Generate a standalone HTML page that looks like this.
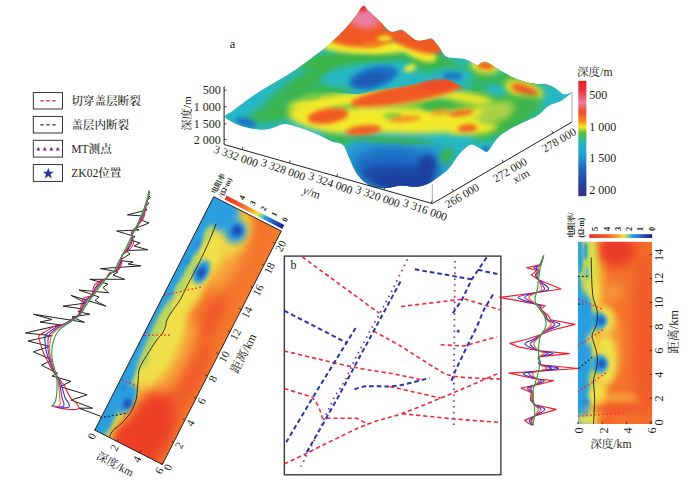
<!DOCTYPE html>
<html><head><meta charset="utf-8"><title>figure</title>
<style>
html,body{margin:0;padding:0;background:#fff;}
body{width:698px;height:484px;overflow:hidden;}
svg{display:block;}
text{font-family:"Liberation Serif", "Noto Serif CJK SC", serif;fill:#231f20;}
</style></head><body>
<svg width="698" height="484" viewBox="0 0 698 484">
<rect x="0" y="0" width="698" height="484" fill="#ffffff"/>
<defs>
<filter id="b1" x="-150%" y="-300%" width="400%" height="700%"><feGaussianBlur stdDeviation="1.1"/></filter>
<filter id="b2" x="-150%" y="-300%" width="400%" height="700%"><feGaussianBlur stdDeviation="2"/></filter>
<filter id="b3" x="-150%" y="-300%" width="400%" height="700%"><feGaussianBlur stdDeviation="3"/></filter>
<filter id="b4" x="-150%" y="-300%" width="400%" height="700%"><feGaussianBlur stdDeviation="4"/></filter>
<filter id="b6" x="-150%" y="-300%" width="400%" height="700%"><feGaussianBlur stdDeviation="6"/></filter>
<linearGradient id="cbDepth" x1="0" y1="0" x2="0" y2="1">
<stop offset="0" stop-color="#e61f26"/>
<stop offset="0.08" stop-color="#e8323a"/>
<stop offset="0.19" stop-color="#ea7fa3"/>
<stop offset="0.27" stop-color="#ee4a2c"/>
<stop offset="0.35" stop-color="#f58a1f"/>
<stop offset="0.40" stop-color="#f6e71f"/>
<stop offset="0.45" stop-color="#5bbf3a"/>
<stop offset="0.53" stop-color="#28b9b0"/>
<stop offset="0.63" stop-color="#27a3d6"/>
<stop offset="0.78" stop-color="#1f62b8"/>
<stop offset="0.92" stop-color="#2a3a9c"/>
<stop offset="1" stop-color="#3b2f8f"/>
</linearGradient>
<linearGradient id="cbRes" x1="0" y1="0" x2="1" y2="0">
<stop offset="0" stop-color="#e8312a"/>
<stop offset="0.30" stop-color="#f2672a"/>
<stop offset="0.45" stop-color="#f7a531"/>
<stop offset="0.55" stop-color="#f3e53c"/>
<stop offset="0.62" stop-color="#7fcf9a"/>
<stop offset="0.68" stop-color="#2a9fe0"/>
<stop offset="0.82" stop-color="#2166c4"/>
<stop offset="0.93" stop-color="#27349a"/>
<stop offset="1" stop-color="#1f2a86"/>
</linearGradient>
</defs>
<rect x="33.3" y="92.6" width="29.2" height="16.4" fill="#fff" stroke="#231f20" stroke-width="0.9"/>
<text x="71.2" y="104.9" font-size="11.6" font-weight="500">切穿盖层断裂</text>
<line x1="40.5" y1="100.8" x2="56" y2="100.8" stroke="#ee2a3a" stroke-width="1.4" stroke-dasharray="3,3"/>
<rect x="33.3" y="116.4" width="29.2" height="16.6" fill="#fff" stroke="#231f20" stroke-width="0.9"/>
<text x="71.2" y="128.8" font-size="11.6" font-weight="500">盖层内断裂</text>
<line x1="40.5" y1="124.7" x2="56" y2="124.7" stroke="#3a3aa8" stroke-width="1.4" stroke-dasharray="3,3"/>
<rect x="33.3" y="140.3" width="29.2" height="16.8" fill="#fff" stroke="#231f20" stroke-width="0.9"/>
<text x="71.2" y="152.8" font-size="11.6" font-weight="500">MT测点</text>
<path d="M36.2,150.6 L40.4,150.6 L38.3,146.7Z" fill="#8a2d9c"/>
<path d="M42.7,150.6 L46.9,150.6 L44.8,146.7Z" fill="#8a2d9c"/>
<path d="M49.2,150.6 L53.4,150.6 L51.3,146.7Z" fill="#8a2d9c"/>
<path d="M55.7,150.6 L59.9,150.6 L57.8,146.7Z" fill="#8a2d9c"/>
<rect x="33.3" y="164.6" width="29.2" height="16.8" fill="#fff" stroke="#231f20" stroke-width="0.9"/>
<text x="71.2" y="177.1" font-size="11.6" font-weight="500">ZK02位置</text>
<path d="M48.3,167.7 L49.7,171.7 L53.9,171.8 L50.5,174.3 L51.8,178.4 L48.3,175.9 L44.8,178.4 L46.1,174.3 L42.7,171.8 L46.9,171.7Z" fill="#2b2f9e"/>
<clipPath id="surfClip"><path d="M225.0,117.0 C223.9,114.8 228.7,114.1 232.0,111.5 C235.3,108.9 240.2,105.0 245.0,101.5 C249.8,98.0 255.5,94.0 261.0,90.5 C266.5,87.0 272.2,84.0 278.0,80.5 C283.8,77.0 290.2,73.4 296.0,69.5 C301.8,65.6 307.3,61.3 313.0,57.0 C318.7,52.7 324.7,48.2 330.0,43.5 C335.3,38.8 340.8,33.4 345.0,29.0 C349.2,24.6 352.0,20.8 355.0,17.0 C358.0,13.2 360.9,7.2 363.0,6.0 C365.1,4.8 365.8,8.5 367.5,10.0 C369.2,11.5 370.8,12.9 373.0,15.0 C375.2,17.1 378.2,19.8 381.0,22.5 C383.8,25.2 387.1,29.5 389.5,31.0 C391.9,32.5 393.4,31.7 395.5,31.5 C397.6,31.3 399.6,29.2 402.0,30.0 C404.4,30.8 407.5,34.2 410.0,36.0 C412.5,37.8 414.5,39.8 417.0,40.5 C419.5,41.2 422.5,40.2 425.0,40.0 C427.5,39.8 429.7,37.8 432.0,39.0 C434.3,40.2 436.7,44.1 439.0,47.0 C441.3,49.9 443.2,54.7 446.0,56.5 C448.8,58.3 452.7,57.5 456.0,58.0 C459.3,58.5 462.5,58.3 466.0,59.5 C469.5,60.7 474.5,64.4 477.0,65.0 C479.5,65.6 479.5,63.5 481.0,63.0 C482.5,62.5 483.7,61.3 486.0,62.0 C488.3,62.7 492.2,65.3 495.0,67.0 C497.8,68.7 499.8,70.2 503.0,72.0 C506.2,73.8 510.2,76.3 514.0,78.0 C517.8,79.7 521.7,81.0 525.5,82.0 C529.3,83.0 533.6,83.6 537.0,84.0 C540.4,84.4 542.8,83.8 546.0,84.6 C549.2,85.4 553.2,87.3 556.0,89.0 C558.8,90.7 561.0,93.7 563.0,94.5 C565.0,95.3 566.5,94.4 568.0,94.0 C569.5,93.6 572.3,91.5 572.0,92.0 C571.7,92.5 568.0,95.5 566.0,97.0 C564.0,98.5 562.7,99.8 559.8,101.3 C556.9,102.8 551.9,103.6 548.4,105.8 C544.9,108.0 542.1,112.2 539.0,114.5 C535.9,116.8 532.9,117.9 530.0,119.3 C527.1,120.7 525.0,121.4 521.7,123.0 C518.4,124.6 513.8,126.8 510.0,129.0 C506.2,131.2 501.9,133.8 499.0,136.5 C496.1,139.2 494.2,142.7 492.5,145.0 C490.8,147.3 489.6,149.4 488.5,150.5 C487.4,151.6 487.5,152.2 486.0,151.8 C484.5,151.4 482.2,149.5 479.6,148.3 C477.0,147.1 473.8,143.8 470.4,144.8 C467.0,145.8 462.6,150.6 459.0,154.5 C455.4,158.4 452.7,164.6 449.0,168.5 C445.3,172.4 440.6,175.4 437.0,178.0 C433.4,180.6 430.9,182.5 427.4,184.0 C423.9,185.5 420.1,186.6 415.8,186.8 C411.5,187.0 406.6,185.2 401.3,185.4 C396.0,185.7 389.3,188.3 384.0,188.3 C378.7,188.3 373.9,187.6 369.5,185.4 C365.1,183.2 361.3,179.9 357.9,175.3 C354.5,170.7 351.7,163.0 349.2,157.9 C346.7,152.8 345.9,147.7 343.0,145.0 C340.1,142.3 335.6,143.1 331.8,141.5 C328.0,139.9 323.8,137.2 320.0,135.5 C316.2,133.8 312.6,132.4 309.0,131.0 C305.4,129.6 302.5,128.5 298.4,127.3 C294.3,126.1 289.6,123.6 284.6,123.9 C279.6,124.2 273.6,128.2 268.6,129.1 C263.6,130.0 259.8,129.8 254.8,129.1 C249.8,128.4 243.8,127.0 238.8,125.0 C233.8,123.0 226.1,119.2 225.0,117.0Z"/></clipPath>
<g clip-path="url(#surfClip)">
<rect x="220" y="0" width="360" height="195" fill="#27b7c4"/>
<ellipse cx="308" cy="80" rx="52" ry="9" fill="#3cb54a" filter="url(#b4)" transform="rotate(-33 308 80)"/>
<ellipse cx="325" cy="90" rx="34" ry="6" fill="#3cb54a" filter="url(#b3)" transform="rotate(-8 325 90)"/>
<ellipse cx="350" cy="60" rx="60" ry="9" fill="#3cb54a" filter="url(#b3)" transform="rotate(-4 350 60)"/>
<ellipse cx="430" cy="62" rx="26" ry="11" fill="#3cb54a" filter="url(#b4)" transform="rotate(10 430 62)"/>
<ellipse cx="505" cy="98" rx="55" ry="25" fill="#3cb54a" filter="url(#b6)" transform="rotate(-22 505 98)"/>
<ellipse cx="470" cy="74" rx="30" ry="8" fill="#3cb54a" filter="url(#b4)" transform="rotate(10 470 74)"/>
<ellipse cx="556" cy="98" rx="20" ry="13" fill="#27b7c4" filter="url(#b4)" transform="rotate(-25 556 98)"/>
<ellipse cx="543" cy="88" rx="12" ry="4" fill="#27b7c4" filter="url(#b3)" transform="rotate(10 543 88)"/>
<ellipse cx="496" cy="90" rx="12" ry="6" fill="#27b7c4" filter="url(#b3)" transform="rotate(12 496 90)"/>
<ellipse cx="525" cy="113" rx="12" ry="4.5" fill="#27b7c4" filter="url(#b3)" transform="rotate(-28 525 113)"/>
<ellipse cx="485" cy="66" rx="15" ry="7.5" fill="#f3ea2b" filter="url(#b3)" transform="rotate(5 485 66)"/>
<ellipse cx="524" cy="90" rx="20" ry="8.5" fill="#f3ea2b" filter="url(#b3)" transform="rotate(18 524 90)"/>
<ellipse cx="485.5" cy="65.5" rx="8.5" ry="3.8" fill="#f15a24" filter="url(#b2)" transform="rotate(5 485.5 65.5)"/>
<ellipse cx="524.5" cy="90" rx="14" ry="4.8" fill="#f15a24" filter="url(#b2)" transform="rotate(18 524.5 90)"/>
<ellipse cx="368" cy="75" rx="46" ry="12" fill="#27b7c4" filter="url(#b3)" transform="rotate(-6 368 75)"/>
<ellipse cx="452" cy="76" rx="22" ry="8" fill="#27b7c4" filter="url(#b3)" transform="rotate(0 452 76)"/>
<ellipse cx="373.4" cy="77.6" rx="25" ry="10.5" fill="#1f6fc6" filter="url(#b2)" transform="rotate(-15 373.4 77.6)"/>
<ellipse cx="371" cy="79.5" rx="16" ry="6" fill="#1c5cb4" filter="url(#b2)" transform="rotate(-15 371 79.5)"/>
<ellipse cx="452.5" cy="76" rx="10.5" ry="3.6" fill="#1f6fc6" filter="url(#b2)" transform="rotate(0 452.5 76)"/>
<ellipse cx="364" cy="46" rx="46" ry="8" fill="#f3ea2b" filter="url(#b2)" transform="rotate(2 364 46)"/>
<ellipse cx="418" cy="51" rx="20" ry="8" fill="#f3ea2b" filter="url(#b2)" transform="rotate(25 418 51)"/>
<ellipse cx="410" cy="68" rx="6.5" ry="3.6" fill="#f3ea2b" filter="url(#b2)" transform="rotate(-25 410 68)"/>
<ellipse cx="362" cy="36" rx="35" ry="11" fill="#f15a24" filter="url(#b2)" transform="rotate(0 362 36)"/>
<ellipse cx="416" cy="41" rx="29" ry="9.5" fill="#f15a24" filter="url(#b2)" transform="rotate(18 416 41)"/>
<ellipse cx="384.5" cy="38.5" rx="8" ry="3" fill="#f3ea2b" filter="url(#b2)" transform="rotate(0 384.5 38.5)"/>
<ellipse cx="372" cy="44" rx="10" ry="2" fill="#f58a22" filter="url(#b2)" transform="rotate(0 372 44)"/>
<ellipse cx="364" cy="24" rx="22" ry="12" fill="#f15a24" filter="url(#b2)" transform="rotate(0 364 24)"/>
<ellipse cx="364" cy="12" rx="9" ry="9" fill="#ea7ea6" filter="url(#b2)" transform="rotate(0 364 12)"/>
<ellipse cx="364" cy="20" rx="15" ry="8" fill="#ea7ea6" filter="url(#b3)" transform="rotate(10 364 20)"/>
<ellipse cx="362.5" cy="7" rx="6" ry="5" fill="#e8302a" filter="url(#b2)" transform="rotate(0 362.5 7)"/>
<clipPath id="ridgeClip"><path d="M225.0,117.0 C229.2,115.5 241.7,111.3 250.0,108.0 C258.3,104.7 268.3,99.6 275.0,97.0 C281.7,94.4 284.7,93.6 290.0,92.5 C295.3,91.4 299.8,90.6 307.0,90.5 C314.2,90.4 325.8,91.5 333.0,92.0 C340.2,92.5 345.7,93.5 350.0,93.8 C354.3,94.1 355.6,94.3 358.8,94.0 C362.0,93.7 364.5,92.9 369.0,92.0 C373.5,91.1 380.8,89.6 386.0,88.8 C391.2,88.0 395.7,87.7 400.0,87.0 C404.3,86.3 408.2,85.4 412.0,84.5 C415.8,83.6 419.0,82.5 423.0,81.5 C427.0,80.5 431.7,78.8 436.0,78.6 C440.3,78.3 445.2,78.9 449.0,80.0 C452.8,81.1 455.5,83.3 459.0,85.0 C462.5,86.7 466.5,89.0 470.0,90.0 C473.5,91.0 476.3,91.7 480.0,91.0 C483.7,90.3 488.2,88.8 492.0,86.0 C495.8,83.2 499.2,78.0 503.0,74.0 C506.8,70.0 509.7,65.7 515.0,62.0 C520.3,58.3 524.2,54.8 535.0,52.0 C545.8,49.2 572.5,46.2 580.0,45.0 L580,200 L220,200Z"/></clipPath>
<g clip-path="url(#ridgeClip)">
<ellipse cx="295" cy="108" rx="50" ry="10" fill="#3cb54a" filter="url(#b4)" transform="rotate(-14 295 108)"/>
<ellipse cx="430" cy="108" rx="40" ry="10" fill="#3cb54a" filter="url(#b4)" transform="rotate(-5 430 108)"/>
<ellipse cx="505" cy="98" rx="55" ry="25" fill="#3cb54a" filter="url(#b6)" transform="rotate(-22 505 98)"/>
<ellipse cx="470" cy="74" rx="30" ry="8" fill="#3cb54a" filter="url(#b4)" transform="rotate(10 470 74)"/>
<ellipse cx="556" cy="98" rx="20" ry="13" fill="#27b7c4" filter="url(#b4)" transform="rotate(-25 556 98)"/>
<ellipse cx="543" cy="88" rx="12" ry="4" fill="#27b7c4" filter="url(#b3)" transform="rotate(10 543 88)"/>
<ellipse cx="496" cy="90" rx="12" ry="6" fill="#27b7c4" filter="url(#b3)" transform="rotate(12 496 90)"/>
<ellipse cx="525" cy="113" rx="12" ry="4.5" fill="#27b7c4" filter="url(#b3)" transform="rotate(-28 525 113)"/>
<ellipse cx="485" cy="66" rx="15" ry="7.5" fill="#f3ea2b" filter="url(#b3)" transform="rotate(5 485 66)"/>
<ellipse cx="524" cy="90" rx="20" ry="8.5" fill="#f3ea2b" filter="url(#b3)" transform="rotate(18 524 90)"/>
<ellipse cx="485.5" cy="65.5" rx="8.5" ry="3.8" fill="#f15a24" filter="url(#b2)" transform="rotate(5 485.5 65.5)"/>
<ellipse cx="524.5" cy="90" rx="14" ry="4.8" fill="#f15a24" filter="url(#b2)" transform="rotate(18 524.5 90)"/>
<ellipse cx="505" cy="118" rx="40" ry="14" fill="#3cb54a" filter="url(#b4)" transform="rotate(-28 505 118)"/>
<ellipse cx="458" cy="143" rx="18" ry="8" fill="#27b7c4" filter="url(#b4)" transform="rotate(-35 458 143)"/>
<ellipse cx="336" cy="137" rx="14" ry="4.5" fill="#3cb54a" filter="url(#b3)" transform="rotate(20 336 137)"/>
<ellipse cx="246" cy="122.5" rx="11" ry="4" fill="#1f6fc6" filter="url(#b2)" transform="rotate(15 246 122.5)"/>
<ellipse cx="398" cy="158" rx="54" ry="20" fill="#2596d1" filter="url(#b4)" transform="rotate(4 398 158)"/>
<ellipse cx="397" cy="167" rx="44" ry="19" fill="#1f6fc6" filter="url(#b4)" transform="rotate(4 397 167)"/>
<ellipse cx="398" cy="177" rx="38" ry="13" fill="#1d4aa8" filter="url(#b4)" transform="rotate(4 398 177)"/>
<ellipse cx="404" cy="183" rx="30" ry="8" fill="#1b3f9f" filter="url(#b3)" transform="rotate(4 404 183)"/>
<ellipse cx="426" cy="168" rx="9" ry="14" fill="#1b3f9f" filter="url(#b3)" transform="rotate(18 426 168)"/>
<ellipse cx="486" cy="149.5" rx="5" ry="3" fill="#1f6fc6" filter="url(#b2)" transform="rotate(0 486 149.5)"/>
<ellipse cx="446.5" cy="156" rx="6" ry="9" fill="#3cb54a" filter="url(#b3)" transform="rotate(25 446.5 156)"/>
<ellipse cx="392" cy="140.5" rx="44" ry="2.6" fill="#3cb54a" filter="url(#b2)" transform="rotate(3 392 140.5)"/>
<ellipse cx="345" cy="140" rx="8" ry="3" fill="#3cb54a" filter="url(#b2)" transform="rotate(20 345 140)"/>
<ellipse cx="372" cy="99" rx="84" ry="9" fill="#f3ea2b" filter="url(#b3)" transform="rotate(-5 372 99)"/>
<ellipse cx="392" cy="120" rx="90" ry="13.5" fill="#f3ea2b" filter="url(#b3)" transform="rotate(2 392 120)"/>
<ellipse cx="330" cy="119" rx="42" ry="13" fill="#f3ea2b" filter="url(#b3)" transform="rotate(8 330 119)"/>
<ellipse cx="472" cy="127.5" rx="25" ry="7" fill="#f3ea2b" filter="url(#b3)" transform="rotate(-3 472 127.5)"/>
<ellipse cx="475" cy="113" rx="26" ry="6" fill="#f3ea2b" filter="url(#b3)" transform="rotate(-5 475 113)"/>
<ellipse cx="468" cy="98" rx="26" ry="5.5" fill="#f3ea2b" filter="url(#b3)" transform="rotate(10 468 98)"/>
<ellipse cx="497" cy="112" rx="18" ry="10" fill="#a8d046" filter="url(#b3)" transform="rotate(-22 497 112)"/>
<ellipse cx="434" cy="106" rx="12" ry="4.2" fill="#3cb54a" filter="url(#b2)" transform="rotate(-5 434 106)"/>
<ellipse cx="393" cy="116" rx="10" ry="3" fill="#7ac943" filter="url(#b2)" transform="rotate(0 393 116)"/>
<ellipse cx="345" cy="107.5" rx="14" ry="2.6" fill="#7ac943" filter="url(#b2)" transform="rotate(-5 345 107.5)"/>
<ellipse cx="311" cy="97" rx="9" ry="2.5" fill="#7ac943" filter="url(#b2)" transform="rotate(-5 311 97)"/>
<ellipse cx="408" cy="93.5" rx="58" ry="9" fill="#f15a24" filter="url(#b2)" transform="rotate(-10 408 93.5)"/>
<ellipse cx="438" cy="85" rx="18" ry="5.5" fill="#ee4c27" filter="url(#b2)" transform="rotate(-6 438 85)"/>
<ellipse cx="328" cy="116" rx="20.5" ry="7.5" fill="#f15a24" filter="url(#b2)" transform="rotate(-8 328 116)"/>
<ellipse cx="363.5" cy="130.3" rx="18" ry="4.8" fill="#f15a24" filter="url(#b2)" transform="rotate(-6 363.5 130.3)"/>
<ellipse cx="461" cy="113" rx="13" ry="2.8" fill="#f15a24" filter="url(#b2)" transform="rotate(-8 461 113)"/>
<ellipse cx="440" cy="112" rx="10" ry="2" fill="#f58a22" filter="url(#b2)" transform="rotate(-8 440 112)"/>
<ellipse cx="405" cy="119" rx="16" ry="3" fill="#f58a22" filter="url(#b2)" transform="rotate(-5 405 119)"/>
<ellipse cx="467.4" cy="128.3" rx="10" ry="3.7" fill="#f15a24" filter="url(#b2)" transform="rotate(-5 467.4 128.3)"/>
</g>
</g>
<path d="M224.1,86.5 L224.1,144.5 L432.3,203.6 L572,122" fill="none" stroke="#231f20" stroke-width="1"/>
<line x1="432.3" y1="203.6" x2="432.3" y2="184" stroke="#555" stroke-width="0.5"/>
<line x1="572" y1="122" x2="572" y2="92" stroke="#555" stroke-width="0.5"/>
<line x1="224.1" y1="90.2" x2="226.6" y2="90.2" stroke="#231f20" stroke-width="0.8"/>
<text x="220.8" y="94.2" font-size="12" text-anchor="end">500</text>
<line x1="224.1" y1="106.7" x2="226.6" y2="106.7" stroke="#231f20" stroke-width="0.8"/>
<text x="220.8" y="110.7" font-size="12" text-anchor="end">1 000</text>
<line x1="224.1" y1="123.9" x2="226.6" y2="123.9" stroke="#231f20" stroke-width="0.8"/>
<text x="220.8" y="127.9" font-size="12" text-anchor="end">1 500</text>
<line x1="224.1" y1="139.5" x2="226.6" y2="139.5" stroke="#231f20" stroke-width="0.8"/>
<text x="220.8" y="143.5" font-size="12" text-anchor="end">2 000</text>
<text transform="translate(191,113.5) rotate(-90)" font-size="11.3" text-anchor="middle">深度/m</text>
<line x1="242.1" y1="149.6" x2="242.9" y2="146.8" stroke="#231f20" stroke-width="0.8"/>
<text transform="translate(234.6,159.8) rotate(19.3)" font-size="11.5" text-anchor="middle">3 332 000</text>
<line x1="289.4" y1="163.0" x2="290.2" y2="160.2" stroke="#231f20" stroke-width="0.8"/>
<text transform="translate(281.9,173.2) rotate(19.3)" font-size="11.5" text-anchor="middle">3 328 000</text>
<line x1="336.7" y1="176.5" x2="337.5" y2="173.7" stroke="#231f20" stroke-width="0.8"/>
<text transform="translate(329.2,186.7) rotate(19.3)" font-size="11.5" text-anchor="middle">3 324 000</text>
<line x1="384.0" y1="189.9" x2="384.8" y2="187.1" stroke="#231f20" stroke-width="0.8"/>
<text transform="translate(376.5,200.1) rotate(19.3)" font-size="11.5" text-anchor="middle">3 320 000</text>
<line x1="431.3" y1="203.3" x2="432.1" y2="200.5" stroke="#231f20" stroke-width="0.8"/>
<text transform="translate(423.8,213.5) rotate(19.3)" font-size="11.5" text-anchor="middle">3 316 000</text>
<text transform="translate(310.5,196) rotate(19.3)" font-size="11.5" text-anchor="middle"><tspan font-style="italic">y</tspan>/m</text>
<line x1="453.5" y1="191.2" x2="452.2" y2="188.7" stroke="#231f20" stroke-width="0.8"/>
<text transform="translate(463.9,199.0) rotate(-30.3)" font-size="11.5" text-anchor="middle">266 000</text>
<line x1="503.3" y1="162.1" x2="502.0" y2="159.6" stroke="#231f20" stroke-width="0.8"/>
<text transform="translate(511.8,173.3) rotate(-30.3)" font-size="11.5" text-anchor="middle">272 000</text>
<line x1="553.0" y1="133.1" x2="551.7" y2="130.6" stroke="#231f20" stroke-width="0.8"/>
<text transform="translate(561.0,143.4) rotate(-30.3)" font-size="11.5" text-anchor="middle">278 000</text>
<text transform="translate(523,179.5) rotate(-30.3)" font-size="11.5" text-anchor="middle"><tspan font-style="italic">x</tspan>/m</text>
<text x="229.8" y="48.4" font-size="12.4">a</text>
<rect x="578.3" y="80.8" width="8.1" height="115.4" fill="url(#cbDepth)"/>
<text x="577" y="75.5" font-size="11.6">深度/m</text>
<text x="589.3" y="99.3" font-size="12">500</text>
<text x="589.3" y="130.6" font-size="12">1 000</text>
<text x="589.3" y="162.4" font-size="12">1 500</text>
<text x="589.3" y="193.7" font-size="12">2 000</text>
<defs><clipPath id="lpClip"><path d="M94.8,430.1 L162.3,464.5 L281.3,231.1 L213.7,196.7Z"/></clipPath>
<linearGradient id="lpGrad" gradientUnits="userSpaceOnUse" x1="94.8" y1="430.1" x2="162.3" y2="464.5">
<stop offset="0" stop-color="#2a9fe0"/><stop offset="0.10" stop-color="#3fa9dc"/><stop offset="0.2" stop-color="#d8de4a"/>
<stop offset="0.30" stop-color="#f6b83a"/><stop offset="0.45" stop-color="#f5862d"/><stop offset="0.7" stop-color="#f3722b"/><stop offset="1" stop-color="#f47a2c"/></linearGradient>
<linearGradient id="lpCb" gradientUnits="userSpaceOnUse" x1="104.1" y1="434.8" x2="162.0" y2="464.3">
<stop offset="0" stop-color="#e8312a"/><stop offset="0.30" stop-color="#f2672a"/><stop offset="0.45" stop-color="#f7a531"/><stop offset="0.56" stop-color="#f3e53c"/>
<stop offset="0.63" stop-color="#7fcf9a"/><stop offset="0.69" stop-color="#2a9fe0"/><stop offset="0.82" stop-color="#2166c4"/><stop offset="0.93" stop-color="#27349a"/><stop offset="1" stop-color="#1f2a86"/></linearGradient>
</defs>
<g clip-path="url(#lpClip)">
<path d="M94.8,430.1 L162.3,464.5 L281.3,231.1 L213.7,196.7Z" fill="url(#lpGrad)"/>
<ellipse cx="147.7" cy="432.0" rx="46" ry="24" fill="#ec3f27" filter="url(#b6)" transform="rotate(-63.0 147.7 432.0)"/>
<ellipse cx="193.4" cy="375.8" rx="40" ry="9" fill="#f05a29" filter="url(#b6)" transform="rotate(-63.0 193.4 375.8)"/>
<ellipse cx="127.4" cy="438.4" rx="14" ry="14" fill="#ec3f27" filter="url(#b4)" transform="rotate(-63.0 127.4 438.4)"/>
<ellipse cx="211.4" cy="318.1" rx="26" ry="10" fill="#f05a29" filter="url(#b6)" transform="rotate(-63.0 211.4 318.1)"/>
<ellipse cx="229.5" cy="257.6" rx="38" ry="12" fill="#f7a23a" filter="url(#b6)" transform="rotate(-63.0 229.5 257.6)"/>
<ellipse cx="177.6" cy="356.6" rx="42" ry="9" fill="#f7a23a" filter="url(#b6)" transform="rotate(-63.0 177.6 356.6)"/>
<ellipse cx="214.3" cy="248.4" rx="46" ry="13" fill="#efe04a" filter="url(#b4)" transform="rotate(-63.0 214.3 248.4)"/>
<ellipse cx="177.6" cy="312.0" rx="55" ry="9.5" fill="#efe04a" filter="url(#b4)" transform="rotate(-63.0 177.6 312.0)"/>
<ellipse cx="235.7" cy="234.3" rx="24" ry="12" fill="#f3d540" filter="url(#b4)" transform="rotate(-63.0 235.7 234.3)"/>
<ellipse cx="147.8" cy="365.1" rx="24" ry="6" fill="#efe04a" filter="url(#b4)" transform="rotate(-63.0 147.8 365.1)"/>
<ellipse cx="164.7" cy="351.4" rx="40" ry="12" fill="#efe04a" filter="url(#b4)" transform="rotate(-63.0 164.7 351.4)"/>
<ellipse cx="194.6" cy="292.7" rx="12" ry="6" fill="#efe04a" filter="url(#b4)" transform="rotate(-63.0 194.6 292.7)"/>
<ellipse cx="113.4" cy="403.3" rx="44" ry="7" fill="#2a9fe0" filter="url(#b2)" transform="rotate(-63.0 113.4 403.3)"/>
<ellipse cx="152.3" cy="322.8" rx="38" ry="2.8" fill="#2a9fe0" filter="url(#b2)" transform="rotate(-63.0 152.3 322.8)"/>
<ellipse cx="157.4" cy="328.2" rx="34" ry="3.6" fill="#b9d65a" filter="url(#b2)" transform="rotate(-63.0 157.4 328.2)"/>
<ellipse cx="189.5" cy="255.3" rx="50" ry="5.2" fill="#2a9fe0" filter="url(#b2)" transform="rotate(-63.0 189.5 255.3)"/>
<ellipse cx="187.8" cy="274.0" rx="24" ry="3.6" fill="#b9d65a" filter="url(#b2)" transform="rotate(-63.0 187.8 274.0)"/>
<ellipse cx="161.3" cy="321.8" rx="16" ry="3" fill="#b9d65a" filter="url(#b2)" transform="rotate(-63.0 161.3 321.8)"/>
<ellipse cx="222.2" cy="213.4" rx="18" ry="17" fill="#2a9fe0" filter="url(#b3)" transform="rotate(-63.0 222.2 213.4)"/>
<ellipse cx="235.5" cy="231.5" rx="12" ry="11" fill="#2a9fe0" filter="url(#b3)" transform="rotate(-63.0 235.5 231.5)"/>
<ellipse cx="201.5" cy="272.0" rx="13" ry="7" fill="#2a9fe0" filter="url(#b2)" transform="rotate(-63.0 201.5 272.0)"/>
<ellipse cx="127.0" cy="399.0" rx="16" ry="7.5" fill="#2a9fe0" filter="url(#b2)" transform="rotate(-63.0 127.0 399.0)"/>
<ellipse cx="145.0" cy="360.9" rx="7" ry="4" fill="#b9d65a" filter="url(#b2)" transform="rotate(-63.0 145.0 360.9)"/>
<ellipse cx="179.4" cy="289.2" rx="9" ry="3.5" fill="#b9d65a" filter="url(#b2)" transform="rotate(-63.0 179.4 289.2)"/>
<ellipse cx="208.1" cy="232.7" rx="8" ry="3" fill="#b9d65a" filter="url(#b2)" transform="rotate(-63.0 208.1 232.7)"/>
<ellipse cx="236.8" cy="230.5" rx="6.5" ry="6" fill="#2472cf" filter="url(#b2)" transform="rotate(-63.0 236.8 230.5)"/>
<ellipse cx="237.2" cy="230.5" rx="3.8" ry="3.8" fill="#1f3fae" filter="url(#b2)" transform="rotate(-63.0 237.2 230.5)"/>
<ellipse cx="201.2" cy="272.5" rx="7.5" ry="4" fill="#2472cf" filter="url(#b2)" transform="rotate(-63.0 201.2 272.5)"/>
<ellipse cx="201.2" cy="272.8" rx="4.5" ry="2.6" fill="#1f3fae" filter="url(#b2)" transform="rotate(-63.0 201.2 272.8)"/>
<ellipse cx="127.1" cy="403.2" rx="6" ry="4" fill="#2472cf" filter="url(#b2)" transform="rotate(-63.0 127.1 403.2)"/>
<ellipse cx="127.3" cy="403.5" rx="3.6" ry="2.6" fill="#1f3fae" filter="url(#b2)" transform="rotate(-63.0 127.3 403.5)"/>
<ellipse cx="123.4" cy="388.5" rx="3.4" ry="1.8" fill="#2472cf" filter="url(#b2)" transform="rotate(-63.0 123.4 388.5)"/>
<ellipse cx="196.6" cy="244.2" rx="3" ry="1.5" fill="#2472cf" filter="url(#b2)" transform="rotate(-63.0 196.6 244.2)"/>
<ellipse cx="187.3" cy="261.8" rx="3" ry="1.5" fill="#2472cf" filter="url(#b2)" transform="rotate(-63.0 187.3 261.8)"/>
<ellipse cx="108.0" cy="424.0" rx="5" ry="1.6" fill="#2f8fd6" filter="url(#b2)" transform="rotate(-63.0 108.0 424.0)"/>
</g>
<path d="M216.1,224.0 C215.2,226.3 212.5,233.3 210.5,238.0 C208.5,242.7 206.4,247.5 204.3,252.0 C202.2,256.5 200.1,260.9 198.0,265.0 C195.9,269.1 194.0,272.9 192.0,276.7 C190.0,280.5 187.8,284.4 186.0,288.0 C184.2,291.6 182.8,295.3 181.0,298.4 C179.2,301.5 177.3,303.9 175.5,306.5 C173.7,309.1 171.8,311.5 170.3,313.9 C168.8,316.3 167.3,318.9 166.5,321.0 C165.7,323.1 166.3,324.1 165.6,326.3 C164.8,328.5 163.4,331.9 162.0,334.0 C160.6,336.1 159.1,336.8 157.4,339.0 C155.7,341.2 153.8,344.2 152.0,347.0 C150.2,349.8 148.3,353.0 146.6,355.7 C144.9,358.4 143.3,360.4 142.0,363.0 C140.7,365.6 139.4,368.4 138.8,371.2 C138.2,374.0 138.4,376.9 138.2,380.0 C137.9,383.1 137.6,386.8 137.3,389.8 C137.0,392.8 137.0,395.4 136.5,398.0 C136.0,400.6 135.1,403.0 134.2,405.3 C133.3,407.6 132.3,409.9 131.0,412.0 C129.7,414.1 128.0,415.9 126.5,417.7 C125.0,419.5 123.5,421.4 122.0,423.0 C120.5,424.6 118.9,425.6 117.2,427.0 C115.5,428.4 113.3,429.8 112.0,431.5 C110.7,433.2 109.8,436.5 109.4,437.5" fill="none" stroke="#231f20" stroke-width="0.9"/>
<line x1="164" y1="295.3" x2="202.8" y2="286.6" stroke="#ee2a3a" stroke-width="1.3" stroke-dasharray="1.8,2.2"/>
<line x1="144" y1="335.3" x2="171.4" y2="335" stroke="#ee2a3a" stroke-width="1.3" stroke-dasharray="1.8,2.2"/>
<line x1="121.8" y1="379.9" x2="138.8" y2="386.7" stroke="#ee2a3a" stroke-width="1.3" stroke-dasharray="1.8,2.2"/>
<line x1="100.1" y1="417.7" x2="128" y2="413" stroke="#231f20" stroke-width="1.3" stroke-dasharray="1.8,2.2"/>
<path d="M94.8,430.1 L162.3,464.5 L281.3,231.1 L213.7,196.7Z" fill="none" stroke="#231f20" stroke-width="1"/>
<line x1="162.3" y1="464.5" x2="160.1" y2="463.4" stroke="#231f20" stroke-width="0.8"/>
<text transform="translate(171.2,469.1) rotate(-63.0)" font-size="11.3" text-anchor="middle">0</text>
<line x1="173.6" y1="442.4" x2="171.4" y2="441.2" stroke="#231f20" stroke-width="0.8"/>
<text transform="translate(182.5,446.9) rotate(-63.0)" font-size="11.3" text-anchor="middle">2</text>
<line x1="184.9" y1="420.2" x2="182.7" y2="419.1" stroke="#231f20" stroke-width="0.8"/>
<text transform="translate(193.8,424.8) rotate(-63.0)" font-size="11.3" text-anchor="middle">4</text>
<line x1="196.2" y1="398.1" x2="193.9" y2="397.0" stroke="#231f20" stroke-width="0.8"/>
<text transform="translate(205.1,402.7) rotate(-63.0)" font-size="11.3" text-anchor="middle">6</text>
<line x1="207.4" y1="376.0" x2="205.2" y2="374.8" stroke="#231f20" stroke-width="0.8"/>
<text transform="translate(216.4,380.5) rotate(-63.0)" font-size="11.3" text-anchor="middle">8</text>
<line x1="218.7" y1="353.8" x2="216.5" y2="352.7" stroke="#231f20" stroke-width="0.8"/>
<text transform="translate(227.6,358.4) rotate(-63.0)" font-size="11.3" text-anchor="middle">10</text>
<line x1="230.0" y1="331.7" x2="227.8" y2="330.6" stroke="#231f20" stroke-width="0.8"/>
<text transform="translate(238.9,336.3) rotate(-63.0)" font-size="11.3" text-anchor="middle">12</text>
<line x1="241.3" y1="309.6" x2="239.1" y2="308.4" stroke="#231f20" stroke-width="0.8"/>
<text transform="translate(250.2,314.1) rotate(-63.0)" font-size="11.3" text-anchor="middle">14</text>
<line x1="252.6" y1="287.5" x2="250.3" y2="286.3" stroke="#231f20" stroke-width="0.8"/>
<text transform="translate(261.5,292.0) rotate(-63.0)" font-size="11.3" text-anchor="middle">16</text>
<line x1="263.8" y1="265.3" x2="261.6" y2="264.2" stroke="#231f20" stroke-width="0.8"/>
<text transform="translate(272.7,269.9) rotate(-63.0)" font-size="11.3" text-anchor="middle">18</text>
<line x1="275.1" y1="243.2" x2="272.9" y2="242.1" stroke="#231f20" stroke-width="0.8"/>
<text transform="translate(284.0,247.7) rotate(-63.0)" font-size="11.3" text-anchor="middle">20</text>
<text transform="translate(247.2,355.1) rotate(-63.0)" font-size="11.9" text-anchor="middle">距离/km</text>
<line x1="94.8" y1="430.1" x2="95.9" y2="427.9" stroke="#231f20" stroke-width="0.8"/>
<text transform="translate(96.5,435.5) rotate(-63.0)" font-size="11.3" text-anchor="end">0</text>
<line x1="117.3" y1="441.6" x2="118.4" y2="439.3" stroke="#231f20" stroke-width="0.8"/>
<text transform="translate(119.1,446.9) rotate(-63.0)" font-size="11.3" text-anchor="end">2</text>
<line x1="139.8" y1="453.0" x2="140.9" y2="450.8" stroke="#231f20" stroke-width="0.8"/>
<text transform="translate(141.6,458.4) rotate(-63.0)" font-size="11.3" text-anchor="end">4</text>
<line x1="162.3" y1="464.5" x2="163.5" y2="462.3" stroke="#231f20" stroke-width="0.8"/>
<text transform="translate(164.1,469.9) rotate(-63.0)" font-size="11.3" text-anchor="end">6</text>
<text transform="translate(113.3,467.6) rotate(27.0)" font-size="11.3" text-anchor="middle">深度/km</text>
<path d="M224.5,199.4 L282.4,228.9 L284.4,225.0 L226.5,195.5Z" fill="url(#lpCb)"/>
<text transform="translate(286.4,222.5) rotate(-63.0)" font-size="8" font-weight="bold">0</text>
<text transform="translate(275.7,217.0) rotate(-63.0)" font-size="8" font-weight="bold">1</text>
<text transform="translate(265.0,211.5) rotate(-63.0)" font-size="8" font-weight="bold">2</text>
<text transform="translate(254.2,206.1) rotate(-63.0)" font-size="8" font-weight="bold">3</text>
<text transform="translate(243.5,200.6) rotate(-63.0)" font-size="8" font-weight="bold">4</text>
<text transform="translate(215.6,194.3) rotate(-63.0)" font-size="7.2" font-weight="bold">电阻率</text>
<text transform="translate(222.8,197.9) rotate(-63.0)" font-size="7.2" font-weight="bold">/(Ω·m)</text>
<path d="M149.2,190.5 L148.0,195.0 L150.5,197.5 L146.5,200.5 L149.0,203.5 L144.5,207.0 L147.0,210.0 L127.4,214.9 L143.0,216.0 L139.0,219.0 L148.9,223.0 L135.4,228.3 L139.0,230.0 L116.6,231.0 L135.0,236.5 L131.0,240.0 L140.0,243.0 L134.0,246.0 L147.8,249.8 L126.0,250.5 L130.0,254.0 L119.3,260.5 L133.0,262.0 L128.0,264.0 L140.8,265.9 L100.5,268.6 L118.0,272.0 L113.0,275.0 L124.7,279.3 L89.8,279.3 L108.0,284.0 L103.0,287.5 L108.6,292.8 L79.0,290.0 L99.0,297.0 L95.0,300.5 L105.9,306.2 L71.0,295.4 L86.0,303.0 L63.0,306.2 L83.0,309.0 L78.0,311.5 L89.8,314.2 L72.0,317.0 L84.4,322.3 L33.4,314.2 L52.0,319.5 L40.0,322.0 L60.3,325.0 L25.4,333.0 L52.2,335.7 L28.0,341.0 L49.5,346.4 L33.4,351.8 L52.2,359.9 L41.5,365.2 L57.6,373.3 L52.0,376.0 L71.0,381.3 L60.3,386.7 L87.1,394.8 L71.0,400.0 L92.5,408.2 L79.0,408.2 L100.5,416.2" fill="none" stroke="#231f20" stroke-width="1" stroke-linejoin="miter"/>
<path d="M149.6,191.6 C149.2,193.0 148.2,197.0 147.5,200.0 C146.8,203.0 146.1,206.4 145.4,209.4 C144.7,212.4 144.9,215.2 143.5,218.0 C142.1,220.8 139.1,223.9 137.1,226.3 C135.1,228.7 132.1,229.8 131.5,232.5 C130.9,235.2 133.7,239.9 133.4,242.7 C133.1,245.5 131.4,247.4 129.5,249.5 C127.6,251.6 123.5,252.8 122.2,255.2 C120.9,257.6 122.4,261.4 121.5,264.0 C120.6,266.6 119.0,269.6 117.0,271.1 C115.0,272.6 111.3,271.8 109.5,273.0 C107.7,274.2 108.0,276.9 106.3,278.3 C104.5,279.7 101.1,280.1 99.0,281.5 C96.9,282.9 94.8,284.6 93.6,286.9 C92.4,289.1 93.6,293.1 92.0,295.0 C90.4,296.9 85.7,296.4 83.9,298.0 C82.2,299.6 82.4,301.8 81.5,304.5 C80.6,307.2 80.0,311.8 78.7,314.0 C77.5,316.2 76.3,316.4 74.0,318.0 C71.7,319.6 67.9,322.3 64.6,323.7 C61.3,325.1 57.0,325.3 54.0,326.5 C51.0,327.7 48.8,329.5 46.5,330.9 C44.2,332.3 41.3,333.9 40.0,335.0 C38.7,336.1 38.6,336.1 38.7,337.6 C38.8,339.1 40.0,342.1 40.5,344.0 C41.0,345.9 41.3,347.0 42.0,349.0 C42.7,351.0 43.9,354.0 44.8,356.0 C45.7,358.0 46.2,358.5 47.5,361.0 C48.8,363.5 51.1,368.4 52.7,370.9 C54.3,373.4 55.6,374.3 57.1,376.2 C58.6,378.1 60.3,380.4 61.5,382.0 C62.7,383.6 63.5,384.0 64.5,385.8 C65.5,387.6 66.7,390.9 67.8,393.0 C68.9,395.1 69.6,396.5 71.1,398.3 C72.6,400.1 75.8,402.2 77.0,404.0 C78.2,405.8 80.1,408.2 78.0,409.0 C75.9,409.8 68.9,409.5 64.5,409.0 C60.1,408.5 53.9,406.3 51.8,405.8" fill="none" stroke="#ee1c25" stroke-width="1.1"/>
<path d="M149.6,191.6 C149.2,193.0 148.1,197.1 147.3,200.0 C146.5,202.9 145.7,206.3 144.8,209.2 C144.0,212.1 143.7,214.8 142.4,217.6 C141.0,220.5 138.6,223.8 136.9,226.3 C135.2,228.8 132.9,230.3 132.1,232.9 C131.2,235.5 132.5,239.3 131.9,241.9 C131.2,244.6 129.8,246.7 128.2,248.9 C126.6,251.1 123.5,252.8 122.2,255.2 C120.9,257.6 121.4,260.7 120.4,263.2 C119.4,265.8 118.0,268.8 116.2,270.5 C114.5,272.2 111.5,272.1 109.9,273.4 C108.2,274.7 107.9,276.8 106.3,278.3 C104.7,279.8 102.0,280.8 100.1,282.4 C98.3,284.1 96.4,285.9 95.1,288.0 C93.8,290.2 93.9,293.5 92.4,295.4 C90.8,297.3 87.4,297.7 85.8,299.3 C84.2,301.0 83.8,303.1 82.8,305.4 C81.8,307.8 81.1,311.6 79.8,313.6 C78.6,315.7 77.3,316.3 75.1,317.8 C73.0,319.4 69.7,321.6 66.9,322.9 C64.1,324.3 60.7,324.9 58.2,326.1 C55.7,327.3 53.8,328.8 51.8,330.1 C49.9,331.5 47.6,333.0 46.5,334.2 C45.3,335.5 45.0,336.0 44.8,337.6 C44.6,339.2 45.1,341.7 45.2,343.6 C45.4,345.5 45.4,347.0 45.8,349.0 C46.2,351.0 46.9,353.6 47.5,355.6 C48.1,357.6 48.4,358.5 49.4,361.0 C50.4,363.5 52.2,367.9 53.5,370.3 C54.7,372.8 55.7,373.9 56.7,375.8 C57.8,377.7 59.0,379.9 59.8,381.6 C60.6,383.3 61.0,384.3 61.6,386.2 C62.3,388.0 63.0,390.6 63.6,392.6 C64.2,394.6 64.6,396.5 65.4,398.3 C66.2,400.1 68.1,401.7 68.6,403.2 C69.2,404.7 70.1,406.6 68.7,407.3 C67.2,408.0 62.8,407.9 59.9,407.7 C57.1,407.4 53.2,406.1 51.8,405.8" fill="none" stroke="#2b35c8" stroke-width="1.1"/>
<path d="M149.6,191.6 C149.2,193.0 148.0,197.1 147.2,200.0 C146.3,202.9 145.4,206.2 144.5,209.1 C143.6,212.0 143.0,214.5 141.7,217.4 C140.4,220.3 138.3,223.7 136.8,226.3 C135.2,228.9 133.4,230.6 132.4,233.1 C131.4,235.6 131.8,238.9 131.0,241.5 C130.2,244.1 128.9,246.3 127.4,248.6 C125.9,250.9 123.5,252.8 122.2,255.2 C120.9,257.6 120.8,260.3 119.7,262.8 C118.6,265.3 117.4,268.4 115.8,270.2 C114.2,272.0 111.7,272.2 110.1,273.6 C108.5,275.0 107.8,276.7 106.3,278.3 C104.8,279.9 102.5,281.3 100.8,283.0 C99.1,284.7 97.4,286.6 96.0,288.7 C94.6,290.8 94.1,293.7 92.6,295.6 C91.1,297.5 88.4,298.4 86.9,300.1 C85.4,301.8 84.7,303.8 83.6,306.0 C82.5,308.2 81.8,311.4 80.5,313.4 C79.2,315.3 77.8,316.2 75.8,317.7 C73.8,319.2 70.7,321.1 68.2,322.5 C65.7,323.9 62.8,324.7 60.6,325.9 C58.4,327.1 56.6,328.4 54.9,329.7 C53.2,331.0 51.3,332.5 50.2,333.8 C49.1,335.1 48.7,336.0 48.3,337.6 C47.9,339.2 48.0,341.5 48.0,343.4 C48.0,345.3 47.8,347.0 48.0,349.0 C48.2,351.0 48.6,353.4 49.0,355.4 C49.4,357.4 49.7,358.6 50.5,361.0 C51.3,363.4 52.9,367.6 53.9,370.0 C54.9,372.4 55.7,373.7 56.5,375.6 C57.3,377.5 58.2,379.6 58.8,381.4 C59.4,383.2 59.6,384.6 60.0,386.4 C60.4,388.2 60.8,390.4 61.2,392.4 C61.5,394.4 61.7,396.6 62.1,398.3 C62.5,400.0 63.6,401.5 63.8,402.8 C64.0,404.1 64.4,405.6 63.3,406.3 C62.2,407.0 59.2,407.0 57.3,406.9 C55.4,406.8 52.7,406.0 51.8,405.8" fill="none" stroke="#8a2aa8" stroke-width="1.1"/>
<path d="M149.6,191.6 C149.2,193.0 148.0,197.1 147.1,200.0 C146.2,202.9 145.2,206.1 144.3,209.0 C143.3,211.9 142.5,214.4 141.2,217.2 C140.0,220.1 138.2,223.6 136.7,226.3 C135.3,229.0 133.7,230.8 132.6,233.3 C131.6,235.7 131.3,238.7 130.4,241.2 C129.4,243.7 128.2,246.0 126.8,248.4 C125.5,250.7 123.5,252.8 122.2,255.2 C120.9,257.6 120.3,260.0 119.2,262.5 C118.1,264.9 117.0,268.1 115.5,270.0 C114.0,271.8 111.8,272.4 110.3,273.8 C108.7,275.1 107.8,276.7 106.3,278.3 C104.8,279.9 102.9,281.6 101.3,283.4 C99.7,285.2 98.1,287.1 96.6,289.2 C95.2,291.2 94.2,293.8 92.8,295.8 C91.3,297.7 89.1,298.9 87.7,300.7 C86.3,302.4 85.3,304.3 84.2,306.4 C83.0,308.5 82.3,311.4 81.0,313.2 C79.7,315.1 78.2,316.1 76.3,317.6 C74.3,319.1 71.5,320.8 69.2,322.2 C66.8,323.5 64.4,324.5 62.4,325.7 C60.4,326.9 58.7,328.1 57.1,329.4 C55.6,330.7 54.0,332.1 52.9,333.5 C51.9,334.9 51.3,336.0 50.9,337.6 C50.4,339.2 50.2,341.3 50.0,343.2 C49.8,345.1 49.6,347.0 49.6,349.0 C49.6,351.0 49.8,353.2 50.1,355.2 C50.4,357.2 50.6,358.6 51.3,361.0 C52.0,363.4 53.4,367.4 54.2,369.8 C55.1,372.2 55.7,373.5 56.3,375.4 C57.0,377.4 57.7,379.4 58.1,381.2 C58.5,383.1 58.6,384.7 58.8,386.6 C59.0,388.4 59.3,390.3 59.4,392.2 C59.6,394.2 59.6,396.6 59.7,398.3 C59.8,400.0 60.3,401.3 60.3,402.5 C60.2,403.7 60.2,404.9 59.4,405.6 C58.6,406.2 56.6,406.3 55.4,406.3 C54.1,406.4 52.4,405.9 51.8,405.8" fill="none" stroke="#f26522" stroke-width="1.1"/>
<path d="M149.6,191.6 C149.2,193.0 147.9,197.1 147.0,200.0 C146.1,202.9 145.0,206.1 143.9,208.9 C142.8,211.7 141.7,214.1 140.5,217.0 C139.3,219.9 137.8,223.6 136.6,226.3 C135.3,229.1 134.2,231.1 133.0,233.5 C131.8,235.9 130.6,238.3 129.4,240.7 C128.2,243.1 127.2,245.6 126.0,248.0 C124.8,250.4 123.5,252.9 122.2,255.2 C121.0,257.5 119.7,259.6 118.5,262.0 C117.3,264.4 116.3,267.6 115.0,269.6 C113.7,271.6 112.0,272.6 110.5,274.0 C109.0,275.4 107.7,276.6 106.3,278.3 C104.9,280.0 103.5,282.1 102.0,284.0 C100.5,285.9 99.1,287.9 97.6,289.9 C96.1,291.9 94.5,294.1 93.0,296.0 C91.5,297.9 90.2,299.7 88.9,301.5 C87.6,303.3 86.2,305.1 85.0,307.0 C83.8,308.9 83.0,311.2 81.7,313.0 C80.4,314.8 78.8,316.1 77.0,317.5 C75.2,318.9 72.6,320.4 70.6,321.7 C68.6,323.0 66.7,324.3 65.0,325.5 C63.3,326.7 61.8,327.6 60.5,328.9 C59.2,330.1 58.0,331.6 57.0,333.0 C56.0,334.4 55.4,335.9 54.7,337.6 C54.0,339.3 53.5,341.1 53.0,343.0 C52.5,344.9 52.2,347.0 52.0,349.0 C51.8,351.0 51.7,353.0 51.8,355.0 C51.9,357.0 52.0,358.6 52.5,361.0 C53.0,363.4 54.1,367.0 54.7,369.4 C55.3,371.8 55.7,373.3 56.1,375.2 C56.5,377.1 56.9,379.1 57.0,381.0 C57.1,382.9 57.0,385.0 57.0,386.8 C57.0,388.6 56.9,390.1 56.8,392.0 C56.6,393.9 56.4,396.6 56.1,398.3 C55.8,400.0 55.4,401.0 55.0,402.0 C54.6,403.0 53.9,403.9 53.5,404.5 C53.1,405.1 52.8,405.3 52.5,405.5 C52.2,405.7 51.9,405.8 51.8,405.8" fill="none" stroke="#19a54a" stroke-width="1.1"/>
<rect x="284.3" y="256.1" width="216.6" height="218.7" fill="#fff" stroke="#2e2e2e" stroke-width="1.3"/>
<text x="290.6" y="269.4" font-size="12">b</text>
<path d="M302.3,257.0 L379.2,313.2" fill="none" stroke="#ee2a3a" stroke-width="1.6" stroke-dasharray="4.2,2.9"/>
<path d="M373.6,331.2 C378.0,333.6 389.4,339.5 400.0,345.8 C410.6,352.1 428.4,364.0 437.0,369.0 C445.6,374.0 444.5,374.2 451.7,375.8 C458.9,377.4 471.8,377.8 480.0,378.3 C488.2,378.8 497.3,378.9 500.8,379.0" fill="none" stroke="#ee2a3a" stroke-width="1.6" stroke-dasharray="4.2,2.9"/>
<path d="M284.3,351.0 C290.2,352.4 307.4,356.6 320.0,359.5 C332.6,362.4 347.7,366.0 360.0,368.4 C372.3,370.8 383.9,372.1 394.0,374.0 C404.1,375.9 416.2,378.7 420.7,379.6" fill="none" stroke="#ee2a3a" stroke-width="1.6" stroke-dasharray="4.2,2.9"/>
<path d="M284.3,388.5 L312.2,397.2 L318.4,405.9 L320.9,413.0 L322.5,418.3 L340.0,418.3 L356.9,418.3 L368.0,424.3" fill="none" stroke="#ee2a3a" stroke-width="1.6" stroke-dasharray="4.2,2.9"/>
<path d="M284.3,464.0 C287.7,462.4 297.2,457.9 304.8,454.2 C312.4,450.5 319.1,446.8 329.6,441.8 C340.1,436.8 355.9,428.7 368.0,424.0 C380.1,419.3 389.9,417.8 402.0,413.5 C414.1,409.2 429.4,402.7 440.6,398.1 C451.8,393.5 459.4,390.2 469.4,385.9 C479.4,381.6 495.6,374.6 500.8,372.3" fill="none" stroke="#ee2a3a" stroke-width="1.6" stroke-dasharray="4.2,2.9"/>
<path d="M402.0,413.7 L454.5,419.0 L500.8,422.5" fill="none" stroke="#ee2a3a" stroke-width="1.6" stroke-dasharray="4.2,2.9"/>
<path d="M389.8,386.5 L440.6,398.1" fill="none" stroke="#ee2a3a" stroke-width="1.6" stroke-dasharray="4.2,2.9"/>
<path d="M401.0,306.5 L464.4,299.0 L500.8,310.0" fill="none" stroke="#ee2a3a" stroke-width="1.6" stroke-dasharray="4.2,2.9"/>
<path d="M440.6,344.8 L464.0,346.0 L496.6,336.8" fill="none" stroke="#ee2a3a" stroke-width="1.6" stroke-dasharray="4.2,2.9"/>
<path d="M284.3,310.7 L347.0,343.0" fill="none" stroke="#2b35a6" stroke-width="2.0" stroke-dasharray="4.6,3.0"/>
<path d="M355.6,328.0 L312.2,398.4 L284.3,445.5" fill="none" stroke="#2b35a6" stroke-width="2.0" stroke-dasharray="4.6,3.0"/>
<path d="M400.5,281.5 L358.0,360.0 L339.5,394.7 L322.0,425.7 L304.8,455.5" fill="none" stroke="#2b35a6" stroke-width="2.0" stroke-dasharray="4.6,3.0"/>
<path d="M414.8,269.3 L471.8,279.3" fill="none" stroke="#2b35a6" stroke-width="2.0" stroke-dasharray="4.6,3.0"/>
<path d="M478.0,269.8 L500.8,274.8" fill="none" stroke="#2b35a6" stroke-width="2.0" stroke-dasharray="4.6,3.0"/>
<path d="M486.7,257.4 L471.8,279.3 L462.0,299.6 L452.0,314.5" fill="none" stroke="#2b35a6" stroke-width="2.0" stroke-dasharray="4.6,3.0"/>
<path d="M493.0,294.6 L484.0,309.5 L476.8,326.9 L466.9,346.7 L455.7,370.0 L450.5,383.2" fill="none" stroke="#2b35a6" stroke-width="2.0" stroke-dasharray="4.6,3.0"/>
<path d="M354.4,389.3 C356.5,388.8 360.5,386.8 366.8,386.3 C373.1,385.8 385.0,386.9 392.2,386.3 C399.4,385.8 403.8,384.4 410.0,383.0 C416.2,381.6 426.3,378.8 429.6,378.0" fill="none" stroke="#2b35a6" stroke-width="2.0" stroke-dasharray="4.6,3.0"/>
<path d="M407.4,259.4 L390.0,294.6 L354.4,360.0 L347.0,377.0 L333.0,399.7 L317.2,434.4 L301.0,466.6" fill="none" stroke="#8a3aae" stroke-width="1.8" stroke-dasharray="1.6,4.2"/>
<path d="M455.0,261.0 L454.0,370.0 L453.7,426.1" fill="none" stroke="#8a3aae" stroke-width="1.8" stroke-dasharray="1.6,4.2"/>
<path d="M458.2,328.8 L458.8,330.4 L460.5,330.5 L459.2,331.5 L459.6,333.1 L458.2,332.2 L456.8,333.1 L457.2,331.5 L455.9,330.5 L457.6,330.4Z" fill="#2b2f9e"/>
<defs><clipPath id="rpClip"><rect x="577.9" y="241.7" width="74.3" height="182.4"/></clipPath>
<linearGradient id="rpGrad" x1="0" y1="0" x2="1" y2="0">
<stop offset="0" stop-color="#2a9fe0"/><stop offset="0.12" stop-color="#3fa9dc"/><stop offset="0.20" stop-color="#d8de4a"/>
<stop offset="0.30" stop-color="#f6b236"/><stop offset="0.42" stop-color="#f4772b"/><stop offset="1" stop-color="#f26a2a"/></linearGradient></defs>
<g clip-path="url(#rpClip)">
<rect x="577.9" y="241.7" width="74.3" height="182.4" fill="url(#rpGrad)"/>
<ellipse cx="646" cy="335" rx="12" ry="80" fill="#f15a29" filter="url(#b6)" transform="rotate(0 646 335)"/>
<ellipse cx="616" cy="250" rx="20" ry="17" fill="#ea3a28" filter="url(#b6)" transform="rotate(0 616 250)"/>
<ellipse cx="612" cy="292" rx="12" ry="9" fill="#f6933a" filter="url(#b4)" transform="rotate(0 612 292)"/>
<ellipse cx="613" cy="345" rx="8" ry="30" fill="#f79a38" filter="url(#b6)" transform="rotate(0 613 345)"/>
<ellipse cx="618" cy="398" rx="20" ry="4" fill="#f7a53c" filter="url(#b3)" transform="rotate(0 618 398)"/>
<ellipse cx="615" cy="409" rx="26" ry="4" fill="#f0522a" filter="url(#b3)" transform="rotate(0 615 409)"/>
<ellipse cx="606" cy="421" rx="10" ry="4" fill="#f15a29" filter="url(#b3)" transform="rotate(0 606 421)"/>
<ellipse cx="588" cy="264" rx="9" ry="30" fill="#dcdf4c" filter="url(#b3)" transform="rotate(0 588 264)"/>
<ellipse cx="594" cy="292" rx="6" ry="10" fill="#efe04a" filter="url(#b3)" transform="rotate(0 594 292)"/>
<ellipse cx="605" cy="320" rx="10" ry="14" fill="#efe04a" filter="url(#b3)" transform="rotate(0 605 320)"/>
<ellipse cx="606" cy="360" rx="11" ry="26" fill="#efe04a" filter="url(#b3)" transform="rotate(0 606 360)"/>
<ellipse cx="597" cy="392" rx="9" ry="10" fill="#efe04a" filter="url(#b3)" transform="rotate(0 597 392)"/>
<ellipse cx="586" cy="418" rx="9" ry="8" fill="#efe04a" filter="url(#b3)" transform="rotate(0 586 418)"/>
<ellipse cx="584" cy="262" rx="5" ry="24" fill="#b4d45e" filter="url(#b2)" transform="rotate(0 584 262)"/>
<ellipse cx="580.2" cy="257" rx="2.6" ry="17" fill="#2a9fe0" filter="url(#b1)" transform="rotate(0 580.2 257)"/>
<ellipse cx="585.5" cy="251" rx="2" ry="9" fill="#2a9fe0" filter="url(#b1)" transform="rotate(0 585.5 251)"/>
<ellipse cx="587" cy="273" rx="1.6" ry="6" fill="#5fb6d8" filter="url(#b1)" transform="rotate(0 587 273)"/>
<ellipse cx="579" cy="284" rx="1.4" ry="8" fill="#2a9fe0" filter="url(#b1)" transform="rotate(0 579 284)"/>
<ellipse cx="584" cy="318" rx="9" ry="22" fill="#2a9fe0" filter="url(#b2)" transform="rotate(0 584 318)"/>
<ellipse cx="583" cy="362" rx="8.5" ry="36" fill="#2a9fe0" filter="url(#b2)" transform="rotate(0 583 362)"/>
<ellipse cx="580" cy="404" rx="3.5" ry="12" fill="#2a9fe0" filter="url(#b2)" transform="rotate(0 580 404)"/>
<ellipse cx="598" cy="321" rx="9" ry="9" fill="#2a9fe0" filter="url(#b2)" transform="rotate(0 598 321)"/>
<ellipse cx="599.5" cy="364" rx="8.5" ry="9.5" fill="#2a9fe0" filter="url(#b2)" transform="rotate(0 599.5 364)"/>
<ellipse cx="589.5" cy="340" rx="2.5" ry="6" fill="#efe04a" filter="url(#b2)" transform="rotate(0 589.5 340)"/>
<ellipse cx="591.5" cy="380" rx="3" ry="8" fill="#b4d45e" filter="url(#b2)" transform="rotate(0 591.5 380)"/>
<ellipse cx="600.8" cy="320.8" rx="3.6" ry="3.8" fill="#2472cf" filter="url(#b2)" transform="rotate(0 600.8 320.8)"/>
<ellipse cx="601" cy="321" rx="2" ry="2.2" fill="#1f3fae" filter="url(#b2)" transform="rotate(0 601 321)"/>
<ellipse cx="601.5" cy="363.4" rx="3.8" ry="4.6" fill="#2472cf" filter="url(#b2)" transform="rotate(0 601.5 363.4)"/>
<ellipse cx="601.6" cy="363.6" rx="2.2" ry="2.8" fill="#1f3fae" filter="url(#b2)" transform="rotate(0 601.6 363.6)"/>
<ellipse cx="585.5" cy="401.2" rx="2.2" ry="3.2" fill="#2472cf" filter="url(#b2)" transform="rotate(0 585.5 401.2)"/>
<ellipse cx="585.6" cy="412.8" rx="2.6" ry="2.6" fill="#2472cf" filter="url(#b2)" transform="rotate(0 585.6 412.8)"/>
</g>
<path d="M591.2,257.5 C591.2,259.2 591.3,264.4 591.4,268.0 C591.5,271.6 591.6,275.6 591.7,279.3 C591.9,283.0 592.0,286.7 592.3,290.0 C592.6,293.3 592.9,296.5 593.5,299.2 C594.1,301.9 595.2,303.9 595.8,306.0 C596.4,308.1 596.9,309.6 597.2,311.6 C597.5,313.6 597.6,315.6 597.4,318.0 C597.2,320.4 596.9,323.2 596.0,326.0 C595.1,328.8 592.6,332.2 592.2,334.9 C591.8,337.6 592.9,339.5 593.5,342.0 C594.1,344.5 595.4,347.3 596.0,349.8 C596.6,352.3 597.1,354.5 597.3,357.0 C597.5,359.5 597.5,362.1 597.2,364.6 C596.9,367.1 596.1,369.5 595.5,372.0 C594.9,374.5 593.8,376.7 593.5,379.5 C593.2,382.3 593.8,385.7 594.0,389.0 C594.2,392.3 594.7,395.8 594.7,399.3 C594.7,402.8 594.4,405.9 594.2,410.0 C594.0,414.1 593.6,421.8 593.5,424.1" fill="none" stroke="#231f20" stroke-width="0.9"/>
<line x1="577.9" y1="276.4" x2="589.8" y2="276.4" stroke="#231f20" stroke-width="1.3" stroke-dasharray="1.8,2.2"/>
<line x1="577.9" y1="304.1" x2="582.5" y2="304.1" stroke="#231f20" stroke-width="1.3" stroke-dasharray="1.8,2.2"/>
<line x1="577.9" y1="299.2" x2="602.2" y2="309.1" stroke="#ee2a3a" stroke-width="1.3" stroke-dasharray="1.8,2.2"/>
<line x1="577.9" y1="346" x2="604.6" y2="328.7" stroke="#ee2a3a" stroke-width="1.3" stroke-dasharray="1.8,2.2"/>
<line x1="578.6" y1="368.4" x2="592.2" y2="357.2" stroke="#231f20" stroke-width="1.3" stroke-dasharray="1.8,2.2"/>
<line x1="577.9" y1="391.9" x2="607.1" y2="372.1" stroke="#ee2a3a" stroke-width="1.3" stroke-dasharray="1.8,2.2"/>
<line x1="577.9" y1="416.2" x2="623.2" y2="413" stroke="#ee2a3a" stroke-width="1.3" stroke-dasharray="1.8,2.2"/>
<line x1="652.2" y1="422.3" x2="649.7" y2="422.3" stroke="#231f20" stroke-width="0.8"/>
<text transform="translate(662.9,422.5) rotate(-90)" font-size="12.3" text-anchor="middle">0</text>
<line x1="652.2" y1="398.3" x2="649.7" y2="398.3" stroke="#231f20" stroke-width="0.8"/>
<text transform="translate(662.9,398.5) rotate(-90)" font-size="12.3" text-anchor="middle">2</text>
<line x1="652.2" y1="374.4" x2="649.7" y2="374.4" stroke="#231f20" stroke-width="0.8"/>
<text transform="translate(662.9,374.6) rotate(-90)" font-size="12.3" text-anchor="middle">4</text>
<line x1="652.2" y1="350.4" x2="649.7" y2="350.4" stroke="#231f20" stroke-width="0.8"/>
<text transform="translate(662.9,350.6) rotate(-90)" font-size="12.3" text-anchor="middle">6</text>
<line x1="652.2" y1="326.5" x2="649.7" y2="326.5" stroke="#231f20" stroke-width="0.8"/>
<text transform="translate(662.9,326.7) rotate(-90)" font-size="12.3" text-anchor="middle">8</text>
<line x1="652.2" y1="302.5" x2="649.7" y2="302.5" stroke="#231f20" stroke-width="0.8"/>
<text transform="translate(662.9,302.7) rotate(-90)" font-size="12.3" text-anchor="middle">10</text>
<line x1="652.2" y1="278.5" x2="649.7" y2="278.5" stroke="#231f20" stroke-width="0.8"/>
<text transform="translate(662.9,278.7) rotate(-90)" font-size="12.3" text-anchor="middle">12</text>
<line x1="652.2" y1="254.6" x2="649.7" y2="254.6" stroke="#231f20" stroke-width="0.8"/>
<text transform="translate(662.9,254.8) rotate(-90)" font-size="12.3" text-anchor="middle">14</text>
<text transform="translate(677.6,332) rotate(-90)" font-size="12.3" text-anchor="middle">距离/km</text>
<line x1="577.9" y1="424.1" x2="577.9" y2="421.6" stroke="#231f20" stroke-width="0.8"/>
<text transform="translate(583.1,430.5) rotate(-90)" font-size="12.3" text-anchor="middle">0</text>
<line x1="602.3" y1="424.1" x2="602.3" y2="421.6" stroke="#231f20" stroke-width="0.8"/>
<text transform="translate(607.5,430.5) rotate(-90)" font-size="12.3" text-anchor="middle">2</text>
<line x1="626.7" y1="424.1" x2="626.7" y2="421.6" stroke="#231f20" stroke-width="0.8"/>
<text transform="translate(631.9,430.5) rotate(-90)" font-size="12.3" text-anchor="middle">4</text>
<line x1="651.1" y1="424.1" x2="651.1" y2="421.6" stroke="#231f20" stroke-width="0.8"/>
<text transform="translate(656.3,430.5) rotate(-90)" font-size="12.3" text-anchor="middle">6</text>
<text x="610.8" y="447.6" font-size="11.6" text-anchor="middle">深度/km</text>
<rect x="589.3" y="234.2" width="62.9" height="3.8" fill="url(#cbRes)"/>
<text transform="translate(597.5,229) rotate(-90)" font-size="8.4" font-weight="bold" text-anchor="middle">5</text>
<text transform="translate(609.8,229) rotate(-90)" font-size="8.4" font-weight="bold" text-anchor="middle">4</text>
<text transform="translate(621.1,229) rotate(-90)" font-size="8.4" font-weight="bold" text-anchor="middle">3</text>
<text transform="translate(631.8,229) rotate(-90)" font-size="8.4" font-weight="bold" text-anchor="middle">2</text>
<text transform="translate(643.4,229) rotate(-90)" font-size="8.4" font-weight="bold" text-anchor="middle">1</text>
<text transform="translate(654.5,229) rotate(-90)" font-size="8.4" font-weight="bold" text-anchor="middle">0</text>
<text transform="translate(574.0,237.6) rotate(-90)" font-size="7.6" font-weight="bold">电阻率/</text>
<text transform="translate(584.4,237.6) rotate(-90)" font-size="7.6" font-weight="bold">(Ω·m)</text>
<path d="M543.7,255.6 L541.5,261.0 L539.6,264.9 L526.6,267.7 L536.8,270.5 L531.3,275.1 L538.7,279.8 L561.0,289.0 L535.0,292.8 L499.6,297.4 L535.0,303.9 L545.2,305.8 L540.6,309.1 L548.0,315.1 L550.8,319.7 L575.0,324.4 L552.6,330.0 L539.6,335.0 L526.0,339.5 L509.9,343.4 L519.2,347.1 L539.6,350.8 L569.4,353.6 L538.7,356.9 L540.0,361.0 L540.6,364.8 L578.7,368.5 L509.0,373.1 L535.0,378.7 L553.6,380.6 L539.6,384.3 L521.0,388.0 L531.3,392.6 L530.3,400.1 L535.0,404.7 L556.2,409.4 L535.0,415.9 L524.6,420.4 L529.0,423.8 L533.1,425.1" fill="none" stroke="#ee1c25" stroke-width="1.15" stroke-linejoin="round"/>
<path d="M543.7,255.6 C543.4,256.5 542.4,259.4 541.8,261.0 C541.3,262.6 541.7,263.8 540.3,264.9 C539.0,266.0 534.0,266.8 533.7,267.7 C533.4,268.6 538.1,269.3 538.4,270.5 C538.7,271.7 535.4,273.6 535.4,275.1 C535.4,276.7 536.3,277.5 538.5,279.8 C540.8,282.1 549.2,286.8 548.7,289.0 C548.3,291.2 540.9,291.4 535.8,292.8 C530.7,294.2 518.2,295.5 518.1,297.4 C518.1,299.2 531.7,302.5 535.5,303.9 C539.3,305.3 540.3,304.9 541.1,305.8 C541.9,306.7 539.4,307.6 540.1,309.1 C540.9,310.7 544.5,313.3 545.8,315.1 C547.1,316.9 545.7,318.1 548.0,319.7 C550.4,321.2 559.9,322.7 560.0,324.4 C560.0,326.1 551.5,328.2 548.2,330.0 C544.9,331.8 542.9,333.4 540.3,335.0 C537.8,336.6 535.6,338.1 533.0,339.5 C530.5,340.9 525.7,342.1 525.0,343.4 C524.4,344.7 526.9,345.9 529.3,347.1 C531.6,348.3 535.1,349.7 539.1,350.8 C543.1,351.9 553.5,352.6 553.4,353.6 C553.4,354.6 541.1,355.7 538.9,356.9 C536.6,358.1 539.5,359.7 539.7,361.0 C539.9,362.3 537.0,363.6 540.1,364.8 C543.2,366.1 560.8,367.1 558.2,368.5 C555.5,369.9 527.8,371.4 524.1,373.1 C520.4,374.8 532.6,377.4 535.9,378.7 C539.3,379.9 544.1,379.7 544.3,380.6 C544.6,381.5 540.0,383.1 537.2,384.3 C534.4,385.5 528.4,386.6 527.6,388.0 C526.7,389.4 531.5,390.6 532.2,392.6 C533.0,394.6 531.6,398.1 532.0,400.1 C532.3,402.1 532.3,403.1 534.5,404.7 C536.6,406.2 544.9,407.5 544.9,409.4 C545.0,411.3 537.4,414.1 534.8,415.9 C532.2,417.7 530.0,419.1 529.4,420.4 C528.8,421.7 530.6,423.0 531.2,423.8 C531.8,424.6 532.8,424.9 533.1,425.1" fill="none" stroke="#2b35c8" stroke-width="1.15" stroke-linejoin="round"/>
<path d="M543.7,255.6 C543.4,256.5 542.4,259.4 541.9,261.0 C541.4,262.6 541.6,263.8 540.6,264.9 C539.6,266.0 536.5,266.8 536.2,267.7 C535.9,268.6 538.8,269.3 538.9,270.5 C539.0,271.7 536.9,273.6 536.8,275.1 C536.7,276.7 537.2,277.5 538.5,279.8 C539.8,282.1 544.9,286.8 544.5,289.0 C544.1,291.2 539.4,291.4 536.0,292.8 C532.7,294.2 524.6,295.5 524.6,297.4 C524.5,299.2 533.2,302.5 535.7,303.9 C538.2,305.3 539.0,304.9 539.7,305.8 C540.4,306.7 539.1,307.6 540.0,309.1 C540.9,310.7 543.9,313.3 545.1,315.1 C546.2,316.9 545.5,318.1 547.1,319.7 C548.7,321.2 554.8,322.7 554.8,324.4 C554.7,326.1 549.0,328.2 546.7,330.0 C544.3,331.8 542.5,333.4 540.6,335.0 C538.7,336.6 537.2,338.1 535.5,339.5 C533.7,340.9 530.7,342.1 530.3,343.4 C529.8,344.7 531.3,345.9 532.8,347.1 C534.2,348.3 536.4,349.7 538.9,350.8 C541.4,351.9 547.9,352.6 547.9,353.6 C547.9,354.6 540.3,355.7 538.9,356.9 C537.5,358.1 539.4,359.7 539.6,361.0 C539.7,362.3 538.0,363.6 539.9,364.8 C541.8,366.1 552.8,367.1 551.1,368.5 C549.3,369.9 531.8,371.4 529.3,373.1 C526.8,374.8 534.3,377.4 536.3,378.7 C538.2,379.9 541.1,379.7 541.1,380.6 C541.2,381.5 538.3,383.1 536.4,384.3 C534.5,385.5 530.5,386.6 529.8,388.0 C529.2,389.4 532.1,390.6 532.6,392.6 C533.0,394.6 532.2,398.1 532.5,400.1 C532.8,402.1 532.9,403.1 534.3,404.7 C535.7,406.2 540.9,407.5 541.0,409.4 C541.1,411.3 536.4,414.1 534.7,415.9 C533.1,417.7 531.5,419.1 531.0,420.4 C530.6,421.7 531.6,423.0 531.9,423.8 C532.3,424.6 532.9,424.9 533.1,425.1" fill="none" stroke="#8a2aa8" stroke-width="1.15" stroke-linejoin="round"/>
<path d="M543.7,255.6 C543.4,256.5 542.5,259.4 542.0,261.0 C541.5,262.6 541.5,263.8 540.8,264.9 C540.1,266.0 538.1,266.8 537.8,267.7 C537.6,268.6 539.3,269.3 539.3,270.5 C539.3,271.7 537.9,273.6 537.7,275.1 C537.6,276.7 537.8,277.5 538.5,279.8 C539.1,282.1 542.0,286.8 541.6,289.0 C541.3,291.2 538.4,291.4 536.2,292.8 C534.1,294.2 528.9,295.5 528.8,297.4 C528.8,299.2 534.2,302.5 535.8,303.9 C537.5,305.3 538.1,304.9 538.7,305.8 C539.4,306.7 538.9,307.6 539.9,309.1 C540.9,310.7 543.5,313.3 544.6,315.1 C545.7,316.9 545.3,318.1 546.5,319.7 C547.6,321.2 551.4,322.7 551.3,324.4 C551.2,326.1 547.4,328.2 545.7,330.0 C543.9,331.8 542.2,333.4 540.8,335.0 C539.3,336.6 538.3,338.1 537.1,339.5 C535.9,340.9 534.1,342.1 533.8,343.4 C533.4,344.7 534.3,345.9 535.1,347.1 C535.9,348.3 537.3,349.7 538.8,350.8 C540.3,351.9 544.2,352.6 544.2,353.6 C544.3,354.6 539.7,355.7 538.9,356.9 C538.2,358.1 539.4,359.7 539.5,361.0 C539.6,362.3 538.6,363.6 539.8,364.8 C540.9,366.1 547.5,367.1 546.3,368.5 C545.1,369.9 534.4,371.4 532.8,373.1 C531.1,374.8 535.4,377.4 536.5,378.7 C537.5,379.9 539.1,379.7 539.0,380.6 C538.9,381.5 537.1,383.1 535.8,384.3 C534.5,385.5 531.8,386.6 531.3,388.0 C530.8,389.4 532.5,390.6 532.8,392.6 C533.0,394.6 532.7,398.1 532.9,400.1 C533.2,402.1 533.3,403.1 534.2,404.7 C535.1,406.2 538.3,407.5 538.4,409.4 C538.5,411.3 535.7,414.1 534.7,415.9 C533.6,417.7 532.5,419.1 532.1,420.4 C531.8,421.7 532.3,423.0 532.4,423.8 C532.6,424.6 533.0,424.9 533.1,425.1" fill="none" stroke="#f26522" stroke-width="1.15" stroke-linejoin="round"/>
<path d="M543.7,255.6 C543.4,256.7 542.4,259.9 541.8,262.0 C541.2,264.1 540.6,266.0 540.2,268.0 C539.8,270.0 539.6,272.1 539.3,274.2 C539.0,276.3 538.5,278.3 538.3,280.5 C538.0,282.7 538.1,285.1 537.8,287.2 C537.5,289.2 537.0,290.9 536.5,292.8 C536.0,294.7 535.1,296.5 535.0,298.3 C534.9,300.1 535.4,302.4 536.0,303.9 C536.6,305.4 537.6,306.2 538.5,307.5 C539.4,308.8 540.6,310.1 541.5,311.4 C542.4,312.7 543.1,313.7 543.8,315.1 C544.5,316.5 545.1,318.1 545.5,319.7 C545.9,321.2 546.3,322.8 546.1,324.4 C545.9,326.0 545.3,327.9 544.5,329.5 C543.7,331.1 542.3,332.1 541.5,333.7 C540.7,335.3 540.0,337.4 539.6,339.0 C539.2,340.6 539.2,342.0 539.0,343.4 C538.8,344.8 538.7,345.9 538.6,347.1 C538.5,348.3 538.6,349.7 538.6,350.8 C538.6,351.9 538.6,352.6 538.7,353.6 C538.8,354.6 538.9,355.7 539.0,356.9 C539.1,358.1 539.3,359.7 539.4,361.0 C539.5,362.3 539.6,363.6 539.6,364.8 C539.6,366.1 539.5,367.1 539.2,368.5 C538.9,369.9 538.4,371.4 538.0,373.1 C537.6,374.8 537.2,377.4 536.8,378.7 C536.4,379.9 536.1,379.7 535.8,380.6 C535.5,381.5 535.4,383.1 535.0,384.3 C534.6,385.5 533.9,386.6 533.6,388.0 C533.3,389.4 533.1,390.6 533.1,392.6 C533.1,394.6 533.4,398.1 533.5,400.1 C533.6,402.1 533.8,403.1 534.0,404.7 C534.2,406.2 534.4,407.5 534.5,409.4 C534.6,411.3 534.7,414.2 534.6,415.9 C534.5,417.6 534.2,418.5 534.0,419.6 C533.8,420.7 533.4,421.6 533.3,422.5 C533.1,423.4 533.1,424.7 533.1,425.1" fill="none" stroke="#19a54a" stroke-width="1.15" stroke-linejoin="round"/>
</svg>
</body></html>
